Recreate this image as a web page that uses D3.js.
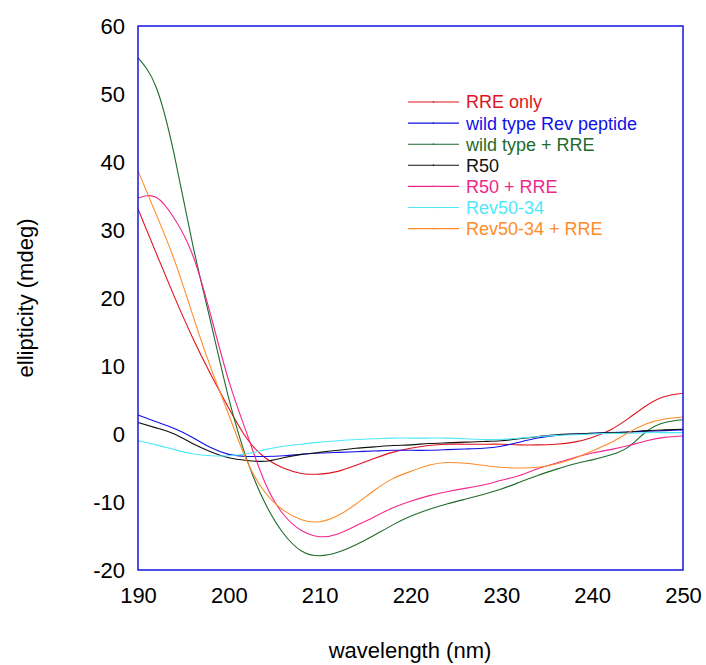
<!DOCTYPE html>
<html>
<head>
<meta charset="utf-8">
<script src="https://d3js.org/d3.v7.min.js"></script>
<style>
  body { margin: 0; background: #fff; }
  text { font-family: "Liberation Sans", Arial, sans-serif; }
</style>
</head>
<body>
<svg id="vis"></svg>

<script>
// wavelengths (nm), every 2 nm
var wavelength = [190, 192, 194, 196, 198, 200, 202, 204, 206, 208, 210, 212, 214, 216, 218, 220,
                  222, 224, 226, 228, 230, 232, 234, 236, 238, 240, 242, 244, 246, 248, 250];

// ellipticity (mdeg)
var rreOnly = [33.1, 26.6, 20.2, 14.2, 8.8, 3.8, -0.7, -3.5, -5.0, -5.8, -5.9, -5.5, -4.6, -3.6, -2.7, -2.1,
               -1.7, -1.5, -1.5, -1.5, -1.5, -1.6, -1.6, -1.5, -1.2, -0.5, 0.6, 2.3, 4.2, 5.5, 6.0];
var wildType = [2.8, 1.8, 0.8, -0.5, -2.0, -3.0, -3.3, -3.3, -3.2, -3.0, -2.8, -2.7, -2.6, -2.5, -2.4, -2.4,
                -2.4, -2.3, -2.2, -2.1, -1.8, -1.2, -0.6, -0.2, 0.0, 0.1, 0.2, 0.3, 0.4, 0.5, 0.6];
var wildTypeRRE = [55.3, 51.0, 41.0, 28.0, 16.5, 5.2, -3.8, -10.2, -14.6, -17.2, -17.9, -17.4, -16.3, -14.9, -13.4, -12.1,
                   -11.1, -10.3, -9.6, -8.9, -8.1, -7.1, -6.1, -5.2, -4.4, -3.8, -3.1, -1.9, 0.4, 1.7, 2.1];
var r50 = [1.7, 0.9, 0.0, -1.4, -2.6, -3.5, -3.9, -4.0, -3.5, -3.0, -2.7, -2.4, -2.1, -1.9, -1.7, -1.6,
           -1.4, -1.3, -1.2, -1.1, -1.0, -0.7, -0.4, -0.1, 0.0, 0.1, 0.2, 0.3, 0.5, 0.6, 0.7];
var r50RRE = [34.7, 34.8, 31.7, 26.4, 17.5, 7.8, 0.0, -7.2, -11.8, -14.2, -15.1, -14.7, -13.5, -12.2, -10.9, -9.9,
              -9.1, -8.5, -8.0, -7.5, -6.8, -6.1, -5.1, -4.3, -3.5, -2.8, -2.3, -1.7, -1.0, -0.5, -0.3];
var rev5034 = [-1.0, -1.6, -2.3, -2.9, -3.2, -3.2, -2.9, -2.3, -1.8, -1.5, -1.2, -1.0, -0.8, -0.7, -0.6, -0.6,
               -0.6, -0.6, -0.7, -0.8, -0.8, -0.6, -0.4, -0.2, -0.1, 0.0, 0.1, 0.1, 0.2, 0.2, 0.2];
var rev5034RRE = [38.7, 32.3, 25.6, 17.6, 9.8, 2.8, -4.0, -8.6, -11.2, -12.6, -12.9, -12.0, -10.3, -8.3, -6.6, -5.5,
                  -4.6, -4.2, -4.3, -4.6, -4.9, -5.0, -4.9, -4.4, -3.6, -2.5, -1.3, 0.2, 1.5, 2.2, 2.5];

var seriesNames = ["RRE only", "wild type Rev peptide", "wild type + RRE", "R50", "R50 + RRE", "Rev50-34", "Rev50-34 + RRE"];
var seriesValues = [rreOnly, wildType, wildTypeRRE, r50, r50RRE, rev5034, rev5034RRE];
var seriesColors = ["#e0141e", "#1010e8", "#1e6b2c", "#111111", "#f0288c", "#50e8f8", "#ff8c28"];

var xTicks = [190, 200, 210, 220, 230, 240, 250];
var yTicks = [-20, -10, 0, 10, 20, 30, 40, 50, 60];

var width = 706, height = 665;
var svg = d3.select("#vis").attr("width", width).attr("height", height);

// scales
var x = d3.scaleLinear().domain([190, 250]).range([138, 683]);
var y = d3.scaleLinear().domain([-20, 60]).range([570, 26]);

// plain hyphen for negatives, like the original
var plain = function(d) { return String(d); };

// axes (no tick marks, just labels)
svg.append("g")
    .attr("transform", "translate(138,0)")
    .call(d3.axisLeft(y).tickValues(yTicks).tickFormat(plain).tickSize(0).tickPadding(13))
    .call(function(g) { g.select(".domain").remove(); })
    .selectAll("text")
    .attr("font-size", 22)
    .attr("font-family", "Liberation Sans, Arial, sans-serif")
    .attr("fill", "#000");

svg.append("g")
    .attr("transform", "translate(0,570)")
    .call(d3.axisBottom(x).tickValues(xTicks).tickFormat(plain).tickSize(0).tickPadding(17))
    .call(function(g) { g.select(".domain").remove(); })
    .selectAll("text")
    .attr("font-size", 22)
    .attr("font-family", "Liberation Sans, Arial, sans-serif")
    .attr("fill", "#000");

// axis titles
svg.append("text")
    .attr("x", 410)
    .attr("y", 658)
    .attr("text-anchor", "middle")
    .attr("font-size", 22)
    .text("wavelength (nm)");

svg.append("text")
    .attr("transform", "translate(33,298) rotate(-90)")
    .attr("text-anchor", "middle")
    .attr("font-size", 22)
    .text("ellipticity (mdeg)");

// spectra
var line = d3.line()
    .x(function(d) { return x(d[0]); })
    .y(function(d) { return y(d[1]); })
    .curve(d3.curveNatural);

var plot = svg.append("g");
seriesValues.forEach(function(vals, i) {
    var pts = wavelength.map(function(w, j) { return [w, vals[j]]; });
    plot.append("path")
        .datum(pts)
        .attr("fill", "none")
        .attr("stroke", seriesColors[i])
        .attr("stroke-width", 1.1)
        .attr("d", line);
});

// frame
svg.append("rect")
    .attr("x", x(190))
    .attr("y", y(60))
    .attr("width", x(250) - x(190))
    .attr("height", y(-20) - y(60))
    .attr("fill", "none")
    .attr("stroke", "#1414e6")
    .attr("stroke-width", 1.5);

// legend
var legend = svg.append("g").attr("transform", "translate(408,102)");
seriesNames.forEach(function(name, i) {
    var row = legend.append("g").attr("transform", "translate(0," + (i * 21.1) + ")");
    row.append("line")
        .attr("x1", 0).attr("x2", 51)
        .attr("y1", 0).attr("y2", 0)
        .attr("stroke", seriesColors[i])
        .attr("stroke-width", 1.1);
    row.append("line")
        .attr("x1", 25.5).attr("x2", 25.5)
        .attr("y1", -0.8).attr("y2", 0.8)
        .attr("stroke", seriesColors[i])
        .attr("stroke-width", 1.2);
    row.append("text")
        .attr("x", 58)
        .attr("y", 0)
        .attr("dy", "0.36em")
        .attr("font-size", 18)
        .attr("fill", seriesColors[i])
        .text(name);
});
</script>
</body>
</html>
